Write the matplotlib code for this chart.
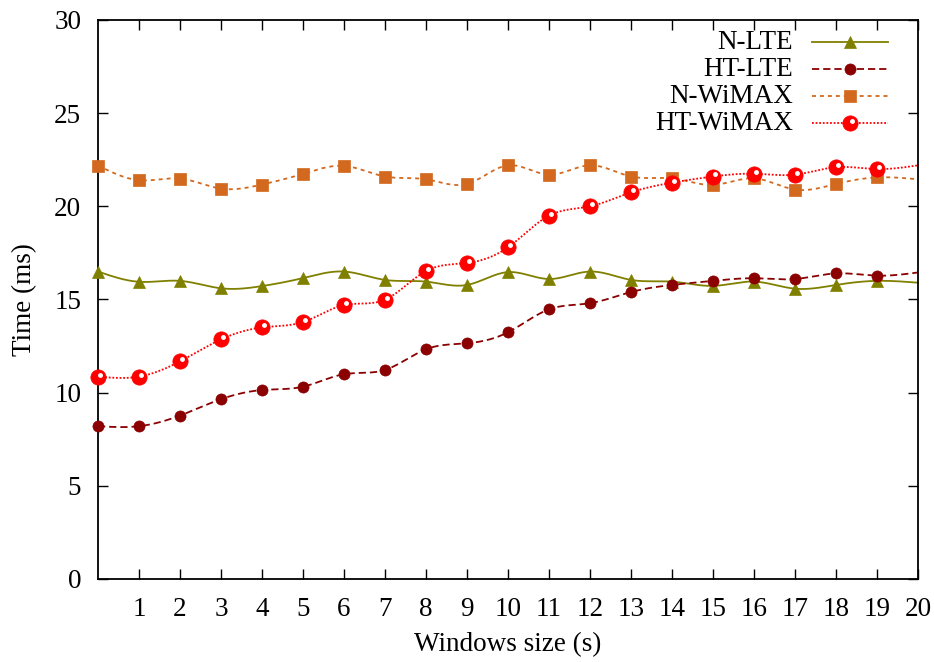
"""
Delay vs window size for LTE / WiMAX handover schemes
"""

import numpy as np
import matplotlib
matplotlib.use('Agg')
import matplotlib.pyplot as plt
from matplotlib.transforms import offset_copy

plt.rcParams['font.family'] = ['Liberation Serif', 'DejaVu Serif']

# data (x = window size in s)
window = [0, 1, 2, 3, 4, 5, 6, 7, 8, 9, 10, 11, 12, 13, 14, 15, 16, 17, 18, 19, 20]
n_lte = [16.5, 15.95, 16.0, 15.6, 15.72, 16.15, 16.5, 16.05, 15.96, 15.78, 16.47,
         16.1, 16.5, 16.05, 15.96, 15.73, 15.96, 15.58, 15.78, 16.0, 15.9]
ht_lte = [8.2, 8.2, 8.77, 9.65, 10.14, 10.32, 10.99, 11.22, 12.33, 12.65, 13.24,
          14.47, 14.8, 15.4, 15.78, 16.0, 16.14, 16.1, 16.4, 16.28, 16.45]
n_wimax = [22.19, 21.4, 21.49, 20.95, 21.17, 21.74, 22.17, 21.6, 21.45, 21.2, 22.2,
           21.7, 22.2, 21.6, 21.5, 21.15, 21.5, 20.9, 21.2, 21.55, 21.45]
ht_wimax = [10.86, 10.86, 11.68, 12.86, 13.5, 13.79, 14.7, 14.99, 16.53, 16.96, 17.8,
            19.5, 20.0, 20.75, 21.27, 21.6, 21.75, 21.7, 22.1, 22.0, 22.2]

labels = ['N-LTE', 'HT-LTE', 'N-WiMAX', 'HT-WiMAX']
xticks = list(range(1, 21))
yticks = [0, 5, 10, 15, 20, 25, 30]


def csplines(x, y, n=600):
    """Natural cubic spline through the points (like gnuplot 'smooth csplines')"""
    x = np.asarray(x, float)
    y = np.asarray(y, float)
    k = len(x)
    h = np.diff(x)
    A = np.zeros((k, k))
    r = np.zeros(k)
    A[0, 0] = A[-1, -1] = 1
    for i in range(1, k - 1):
        A[i, i - 1] = h[i - 1]
        A[i, i] = 2 * (h[i - 1] + h[i])
        A[i, i + 1] = h[i]
        r[i] = 6 * ((y[i + 1] - y[i]) / h[i] - (y[i] - y[i - 1]) / h[i - 1])
    M = np.linalg.solve(A, r)
    xs = np.linspace(x[0], x[-1], n)
    idx = np.clip(np.searchsorted(x, xs) - 1, 0, k - 2)
    x0, x1 = x[idx], x[idx + 1]
    hh = x1 - x0
    t0, t1 = x1 - xs, xs - x0
    ys = (M[idx] * t0 ** 3 / (6 * hh) + M[idx + 1] * t1 ** 3 / (6 * hh)
          + (y[idx] / hh - M[idx] * hh / 6) * t0
          + (y[idx + 1] / hh - M[idx + 1] * hh / 6) * t1)
    return xs, ys


fig = plt.figure(figsize=(9.34, 6.62), dpi=100)
ax = fig.add_axes([0.1049, 0.1254, 0.878, 0.8444])

styles = [
    dict(color='#808000', ls='-', lw=1.3, marker='^', ms=8),
    dict(color='#8b0000', ls=(0, (4, 2.2)), lw=1.3, marker='o', ms=8),
    dict(color='#d2691e', ls=(0, (2.2, 2.2)), lw=1.3, marker='s', ms=8),
    dict(color='#ff0000', ls=(0, (1, 1)), lw=1.3, marker='o', ms=11),
]
series = [n_lte, ht_lte, n_wimax, ht_wimax]

# highlight dot on the red balls
hl = offset_copy(ax.transData, fig=fig, x=1.5, y=1.5, units='points')

for vals, st, lab in zip(series, styles, labels):
    xs, ys = csplines(window, vals)
    ax.plot(xs, ys, color=st['color'], ls=st['ls'], lw=st['lw'], zorder=2)
    ax.plot(window[:-1], vals[:-1], ls='none', marker=st['marker'], ms=st['ms'],
            color=st['color'], mec=st['color'], mew=0.5, zorder=3, clip_on=False)
    if lab == 'HT-WiMAX':
        ax.plot(window[:-1], vals[:-1], ls='none', marker='o', ms=2.5,
                color='white', mec='white', transform=hl, zorder=4, clip_on=False)

fs = 19.5

# legend drawn by hand: right-aligned text, sample on the right
for i, (st, lab) in enumerate(zip(styles, labels)):
    yy = 0.9606 - i * 0.0485
    ax.text(0.848, yy, lab, ha='right', va='center', fontsize=fs,
            transform=ax.transAxes)
    ax.plot([0.871, 0.963], [yy, yy], color=st['color'], ls=st['ls'],
            lw=st['lw'], transform=ax.transAxes, zorder=3)
    ax.plot([0.917], [yy], marker=st['marker'], ms=st['ms'], color=st['color'],
            mec=st['color'], mew=0.5, transform=ax.transAxes, zorder=4)
    if lab == 'HT-WiMAX':
        ax.plot([0.917], [yy], marker='o', ms=2.5, color='white', mec='white',
                transform=offset_copy(ax.transAxes, fig=fig, x=1.5, y=1.5,
                                      units='points'), zorder=5)

ax.set_xlim(0, 20)
ax.set_ylim(0, 30)
ax.set_xticks(xticks)
ax.set_yticks(yticks)
ax.tick_params(direction='in', length=7, width=1, top=True, right=True,
               labelsize=fs)
ax.tick_params(axis='x', pad=13)
ax.tick_params(axis='y', pad=12)
for sp in ax.spines.values():
    sp.set_linewidth(1.3)

ax.set_xlabel('Windows size (s)', fontsize=fs, labelpad=7)
ax.set_ylabel('Time (ms)', fontsize=fs, labelpad=12)

fig.savefig('out.png', dpi=100)
